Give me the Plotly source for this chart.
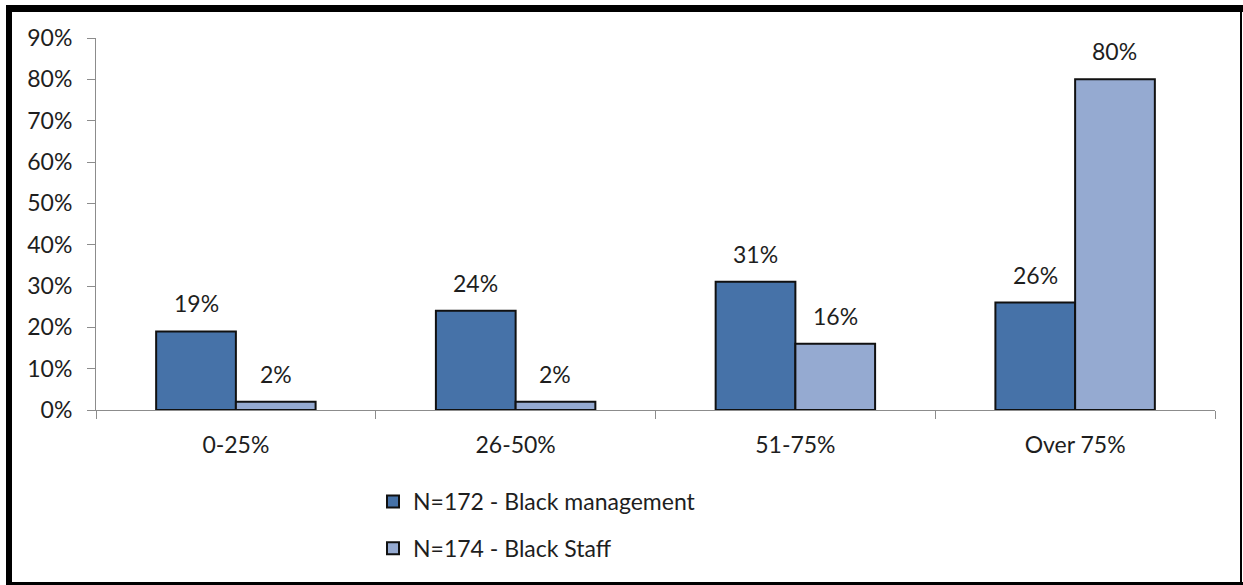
import plotly.graph_objects as go

# Share of black employees, by band
categories = ["0-25%", "26-50%", "51-75%", "Over 75%"]
management = [19, 24, 31, 26]
staff = [2, 2, 16, 80]
series_names = ["N=172 - Black management", "N=174 - Black Staff"]
y_ticks = [0, 10, 20, 30, 40, 50, 60, 70, 80, 90]

W, H = 1243, 585
L, R, T, B = 96, 28, 38, 175
FONT = "Lato"
FS = 23
TXT = "#1e1e1e"
colors = ["#4672A8", "#95AAD1"]

fig = go.Figure()
for i, (name, vals) in enumerate(zip(series_names, [management, staff])):
    fig.add_trace(go.Bar(
        x=categories, y=vals, name=name,
        marker=dict(color=colors[i], line=dict(color="#111111", width=2)),
        legendgroup=f"g{i}",
    ))

# value labels above each bar
bar_px = (W - L - R) / len(categories) * (1 - 0.43) / 2
for i, vals in enumerate([management, staff]):
    shift = (-0.5 + i) * bar_px
    for c, v in zip(categories, vals):
        fig.add_annotation(x=c, y=v, text=f"{v}%", showarrow=False,
                           xshift=shift, yshift=28, yanchor="middle",
                           font=dict(family=FONT, size=FS, color=TXT))

# frame around the chart
def px_x(p):
    return (p - L) / (W - L - R)

def px_y(p):
    return 1 - (p - T) / (H - T - B)

frame = [
    (6, 5, 12, 585),      # left
    (6, 5, 1243, 12),     # top
    (1240, 5, 1242, 585), # right
    (6, 582, 1243, 585),  # bottom
]
for x0, y0, x1, y1 in frame:
    fig.add_shape(type="rect", xref="paper", yref="paper",
                  x0=px_x(x0), x1=px_x(x1), y0=px_y(y1), y1=px_y(y0),
                  fillcolor="black", line_width=0, layer="above")

fig.update_layout(
    width=W, height=H,
    margin=dict(l=L, r=R, t=T, b=B),
    paper_bgcolor="white", plot_bgcolor="white",
    barmode="group", bargap=0.43, bargroupgap=0,
    font=dict(family=FONT, size=FS, color=TXT),
    showlegend=True,
    legend=dict(orientation="v", x=px_x(373), xanchor="left",
                y=px_y(480), yanchor="top", tracegroupgap=14,
                itemwidth=30,
                font=dict(family=FONT, size=FS, color=TXT),
                bgcolor="rgba(0,0,0,0)"),
    xaxis=dict(showline=True, linecolor="#8c8c8c", linewidth=1,
               ticks="outside", tickson="boundaries", ticklen=8,
               tickcolor="#8c8c8c", showgrid=False, zeroline=False,
               ticklabelstandoff=14,
               tickfont=dict(family=FONT, size=FS, color=TXT)),
    yaxis=dict(range=[0, 90], tickvals=y_ticks,
               ticktext=[f"{v}%" for v in y_ticks],
               showline=True, linecolor="#8c8c8c", linewidth=1,
               ticks="outside", ticklen=8, tickcolor="#8c8c8c",
               showgrid=False, zeroline=False, ticklabelstandoff=10,
               tickfont=dict(family=FONT, size=FS, color=TXT)),
)

fig.write_html("out.html")
